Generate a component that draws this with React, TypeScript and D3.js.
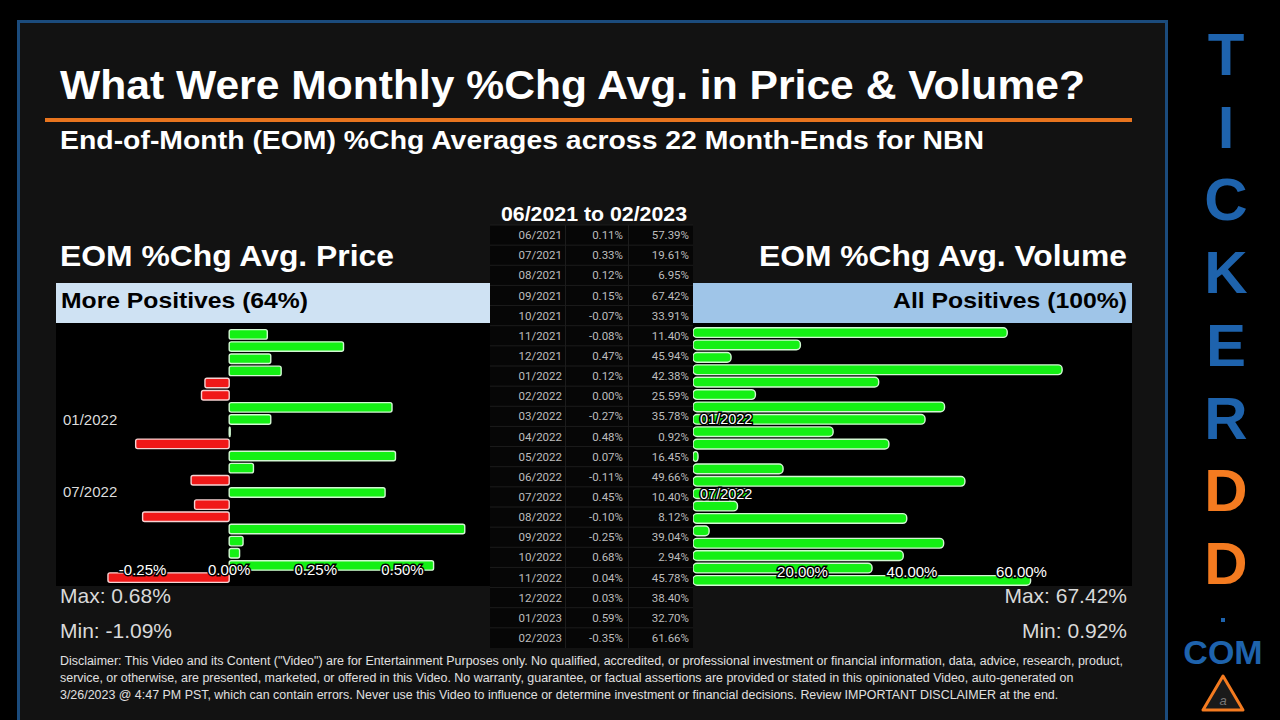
import React from 'react';
import * as d3 from 'd3';

const months = [
  '06/2021', '07/2021', '08/2021', '09/2021', '10/2021', '11/2021', '12/2021',
  '01/2022', '02/2022', '03/2022', '04/2022', '05/2022', '06/2022', '07/2022',
  '08/2022', '09/2022', '10/2022', '11/2022', '12/2022', '01/2023', '02/2023'
];
const priceChg = [
  0.11, 0.33, 0.12, 0.15, -0.07, -0.08, 0.47,
  0.12, 0.0, -0.27, 0.48, 0.07, -0.11, 0.45,
  -0.1, -0.25, 0.68, 0.04, 0.03, 0.59, -0.35
];
const volumeChg = [
  57.39, 19.61, 6.95, 67.42, 33.91, 11.4, 45.94,
  42.38, 25.59, 35.78, 0.92, 16.45, 49.66, 10.4,
  8.12, 39.04, 2.94, 45.78, 38.4, 32.7, 61.66
];
const priceTicks = [-0.25, 0, 0.25, 0.5];
const volumeTicks = [20, 40, 60];
const labeledMonths = ['01/2022', '07/2022'];
const logoLetters = ['T', 'I', 'C', 'K', 'E', 'R', 'D', 'D'];
const disclaimerLines = [
  'Disclaimer: This Video and its Content ("Video") are for Entertainment Purposes only. No qualified, accredited, or professional investment or financial information, data, advice, research, product,',
  'service, or otherwise, are presented, marketed, or offered in this Video. No warranty, guarantee, or factual assertions are provided or stated in this opinionated Video, auto-generated on',
  '3/26/2023 @ 4:47 PM PST, which can contain errors. Never use this Video to influence or determine investment or financial decisions. Review IMPORTANT DISCLAIMER at the end.'
];

const FONT = '"Liberation Sans", Arial, sans-serif';
const GREEN = '#14f014';
const GREEN_EDGE = '#d2f7d2';
const RED = '#f01818';
const RED_EDGE = '#f7d2d2';
const BLUE = '#1e63ad';
const ORANGE = '#f47b20';

const fmtPct = (v: number) => v.toFixed(2) + '%';

export default function App() {
  // price chart scales
  const px = d3.scaleLinear().domain([-0.5, 0.75]).range([56, 489]);
  const py = d3.scaleBand<string>().domain(months).range([327, 585]).padding(0.22);
  // volume chart scales
  const vx = d3.scaleLinear().domain([0, 80]).range([693, 1131]);
  const vy = d3.scaleBand<string>().domain(months).range([325, 588]).padding(0.22);
  // table rows
  const ty = d3.scaleBand<string>().domain(months).range([225, 648]);

  const halo = { stroke: '#000', strokeWidth: 3, paintOrder: 'stroke' as const };
  const wide = { lengthAdjust: 'spacingAndGlyphs' as const };

  return (
    <svg width={1280} height={720} style={{ position: 'absolute', left: 0, top: 0 }} fontFamily={FONT}>
      <rect x={0} y={0} width={1280} height={720} fill="#000" />
      {/* main panel */}
      <rect x={18.5} y={21.5} width={1148} height={720} fill="#121212" stroke="#1b4b7c" strokeWidth={3} />

      <text x={60} y={99} fill="#fff" fontSize={41} fontWeight={700} textLength={1025} {...wide}>
        What Were Monthly %Chg Avg. in Price &amp; Volume?
      </text>
      <rect x={45} y={118} width={1087} height={4} fill="#e8741e" />
      <text x={60} y={149} fill="#fff" fontSize={26} fontWeight={700} textLength={924} {...wide}>
        End-of-Month (EOM) %Chg Averages across 22 Month-Ends for NBN
      </text>

      {/* section titles */}
      <text x={60} y={266} fill="#fff" fontSize={29.5} fontWeight={700} textLength={334} {...wide}>EOM %Chg Avg. Price</text>
      <text x={759} y={266} fill="#fff" fontSize={29.5} fontWeight={700} textLength={368} {...wide}>EOM %Chg Avg. Volume</text>
      <rect x={56} y={283} width={434} height={40} fill="#cfe2f3" />
      <text x={61} y={308} fill="#000" fontSize={22.5} fontWeight={700} textLength={247} {...wide}>More Positives (64%)</text>
      <rect x={693} y={283} width={439} height={40} fill="#9fc5e8" />
      <text x={893} y={308} fill="#000" fontSize={22.5} fontWeight={700} textLength={234} {...wide}>All Positives (100%)</text>

      {/* price chart */}
      <rect x={56} y={323} width={434} height={263} fill="#000" />
      <g>
        {months.map((m, i) => {
          const v = priceChg[i];
          const x0 = px(Math.min(0, v));
          const w = Math.max(Math.abs(px(v) - px(0)), 1);
          return (
            <rect key={m} x={x0} y={py(m)} width={w} height={py.bandwidth()} rx={2}
              fill={v < 0 ? RED : GREEN} stroke={v < 0 ? RED_EDGE : GREEN_EDGE} strokeWidth={1.4} />
          );
        })}
      </g>
      {labeledMonths.map(m => (
        <text key={m} x={63} y={(py(m) || 0) + py.bandwidth() / 2 + 5} fill="#dcdcdc" fontSize={15}>{m}</text>
      ))}
      {priceTicks.map(t => (
        <text key={t} x={px(t)} y={575} fill="#fff" fontSize={15} textAnchor="middle" {...halo}>{fmtPct(t)}</text>
      ))}

      {/* volume chart */}
      <rect x={693} y={323} width={439} height={263} fill="#000" />
      <g>
        {months.map((m, i) => (
          <rect key={m} x={vx(0)} y={vy(m)} width={vx(volumeChg[i]) - vx(0)} height={vy.bandwidth()} rx={4}
            fill={GREEN} stroke={GREEN_EDGE} strokeWidth={1.4} />
        ))}
      </g>
      {labeledMonths.map(m => (
        <text key={m} x={700} y={(vy(m) || 0) + vy.bandwidth() / 2 + 5} fill="#fff" fontSize={14.5} {...halo}>{m}</text>
      ))}
      {volumeTicks.map(t => (
        <text key={t} x={vx(t)} y={577} fill="#fff" fontSize={15} textAnchor="middle" {...halo}>{fmtPct(t)}</text>
      ))}

      {/* table */}
      <text x={501} y={221} fill="#fff" fontSize={19.5} fontWeight={700} textLength={186} {...wide}>06/2021 to 02/2023</text>
      <rect x={490} y={225} width={203} height={423} fill="#060606" />
      <g fontFamily="Roboto, sans-serif" fontSize={11.5} fill="#bdbdbd" textAnchor="end">
        {months.map((m, i) => {
          const y = ty(m) || 0;
          const cy = y + ty.bandwidth() / 2 + 4;
          return (
            <g key={m}>
              <line x1={490} x2={693} y1={y} y2={y} stroke="#1c1c1c" />
              <text x={562} y={cy}>{m}</text>
              <text x={623} y={cy}>{fmtPct(priceChg[i])}</text>
              <text x={689} y={cy}>{fmtPct(volumeChg[i])}</text>
            </g>
          );
        })}
        <line x1={565.5} x2={565.5} y1={225} y2={648} stroke="#1c1c1c" />
        <line x1={628.5} x2={628.5} y1={225} y2={648} stroke="#1c1c1c" />
      </g>

      {/* max / min */}
      <g fill="#d9d9d9" fontSize={21}>
        <text x={60} y={603}>Max: {fmtPct(d3.max(priceChg) || 0)}</text>
        <text x={60} y={638}>Min: -1.09%</text>
        <text x={1127} y={603} textAnchor="end">Max: {fmtPct(d3.max(volumeChg) || 0)}</text>
        <text x={1127} y={638} textAnchor="end">Min: {fmtPct(d3.min(volumeChg) || 0)}</text>
      </g>

      {/* disclaimer */}
      <g fill="#e0e0e0" fontSize={12.45}>
        {disclaimerLines.map((l, i) => (
          <text key={i} x={60} y={665 + i * 17}>{l}</text>
        ))}
      </g>

      {/* logo */}
      <g fontWeight={700} textAnchor="middle">
        {logoLetters.map((c, i) => (
          <text key={i} x={1226} y={75 + i * 72.7} fontSize={60} fill={i >= 6 ? ORANGE : BLUE}>{c}</text>
        ))}
        <rect x={1221} y={618} width={4} height={4} fill={BLUE} />
        <text x={1223} y={664} fontSize={34} fill={BLUE}>COM</text>
      </g>
      <path d="M1223,676 L1243,710 L1203,710 Z" fill="#1a1a1a" stroke={ORANGE} strokeWidth={3} strokeLinejoin="round" />
      <text x={1223} y={705} fontSize={13} fill="#777" textAnchor="middle" fontStyle="italic">a</text>
    </svg>
  );
}
